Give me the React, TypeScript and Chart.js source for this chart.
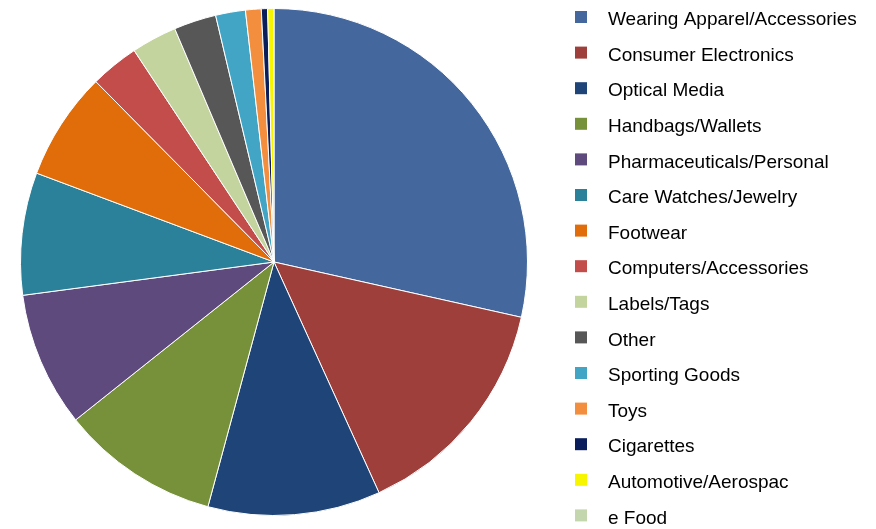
import React, { useEffect, useRef } from "react";
import { Chart, registerables } from "chart.js";

Chart.register(...registerables);

const categories = [
  "Wearing Apparel/Accessories",
  "Consumer Electronics",
  "Optical Media",
  "Handbags/Wallets",
  "Pharmaceuticals/Personal",
  "Care Watches/Jewelry",
  "Footwear",
  "Computers/Accessories",
  "Labels/Tags",
  "Other",
  "Sporting Goods",
  "Toys",
  "Cigarettes",
  "Automotive/Aerospac",
  "e Food",
];

const shares = [28.5, 14.7, 11.0, 10.1, 8.6, 7.8, 6.9, 3.1, 2.9, 2.7, 1.9, 1.0, 0.4, 0.4, 0];

const colors = [
  "#44689E",
  "#9E3F3C",
  "#1F4477",
  "#77913A",
  "#5E4A7C",
  "#2C819A",
  "#E06C0A",
  "#C24D4B",
  "#C3D49E",
  "#575757",
  "#42A5C5",
  "#F28E3E",
  "#0A1E5C",
  "#F8F500",
  "#C3D6AE",
];

const sideLegend = {
  id: "sideLegend",
  afterDraw(chart: any) {
    const ctx = chart.ctx;
    const labels: string[] = chart.data.labels;
    const bg: string[] = chart.data.datasets[0].backgroundColor;
    const boxX = 575;
    const textX = 608;
    const firstY = 19;
    const step = 35.6;
    ctx.save();
    ctx.font = "19px 'Liberation Sans', Arial, sans-serif";
    ctx.textBaseline = "middle";
    ctx.textAlign = "left";
    labels.forEach((label, i) => {
      const y = firstY + i * step;
      ctx.fillStyle = bg[i];
      ctx.fillRect(boxX, y - 8, 12, 12);
      ctx.fillStyle = "#000000";
      ctx.fillText(label, textX, y + 1);
    });
    ctx.restore();
  },
};

export default function App() {
  const ref = useRef<HTMLCanvasElement | null>(null);

  useEffect(() => {
    document.body.style.margin = "0";
    const canvas = ref.current;
    if (!canvas) return;
    const chart = new Chart(canvas, {
      type: "pie",
      data: {
        labels: categories,
        datasets: [
          {
            data: shares,
            backgroundColor: colors,
            borderColor: "#ffffff",
            borderWidth: 1,
          },
        ],
      },
      options: {
        responsive: false,
        animation: false,
        layout: { padding: { top: 8, bottom: 13, left: 0, right: 328 } },
        plugins: {
          tooltip: { enabled: false },
          legend: { display: false },
        },
      },
      plugins: [sideLegend],
    });
    return () => chart.destroy();
  }, []);

  return (
    <div style={{ position: "absolute", left: 0, top: 0, width: 876, height: 529, background: "#fff" }}>
      <canvas ref={ref} width={876} height={529} style={{ width: 876, height: 529 }} />
    </div>
  );
}
